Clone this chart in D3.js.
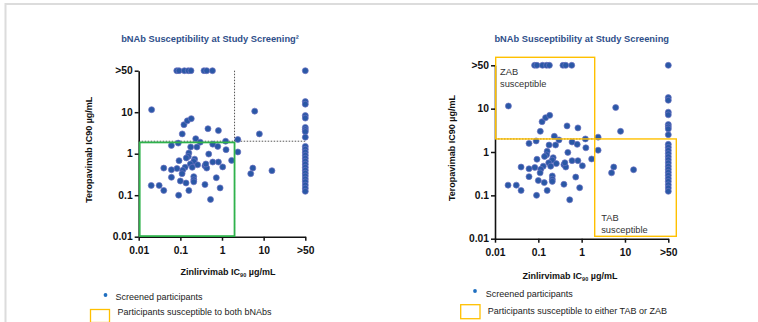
<!DOCTYPE html>
<html>
<head>
<meta charset="utf-8">
<script src="https://cdn.jsdelivr.net/npm/d3@7"></script>
<style>
  body { margin: 0; background: #fff; }
  svg { display: block; font-family: "Liberation Sans", Arial, sans-serif; }
</style>
</head>
<body>
<svg id="chart" width="758" height="322"></svg>
<script>
// ">50" values are plotted at the 100 position of the log axis
const GT50 = 100;
const THRESHOLD = 2; // susceptibility cut-off, µg/mL

const tickValues = [0.01, 0.1, 1, 10, GT50];
const tickLabels = ['0.01', '0.1', '1', '10', '>50'];

// Zinlirvimab IC90 (x) per screened participant
const zinlirvimabIC90 = [
  // Teropavimab >50 row
  0.082, 0.093, 0.125, 0.155, 0.18, 0.37, 0.43, 0.59,
  // Zinlirvimab >50 column
  GT50, GT50, GT50, GT50, GT50, GT50, GT50, GT50, GT50, GT50, GT50, GT50, GT50,
  GT50, GT50, GT50, GT50, GT50, GT50, GT50, GT50, GT50, GT50, GT50, GT50,
  // everything else
  0.0204, 6.1, 7.9, 0.122, 0.147, 0.183, 0.111, 0.46, 0.82, 0.234,
  0.30, 0.061, 0.089, 0.177, 0.25, 0.6, 0.79, 1.22, 1.25, 2.4,
  2.4, 1.7, 0.16, 0.155, 0.139, 0.22, 0.21, 0.48, 0.093, 0.6,
  0.82, 1.04, 0.174, 0.193, 0.26, 0.39, 0.43, 0.41, 0.13, 0.114,
  0.11, 0.083, 0.061, 0.04, 0.061, 0.10, 0.21, 0.21, 0.21, 0.137,
  0.39, 0.73, 0.9, 0.16, 0.091, 0.04, 0.031, 0.02, 0.53, 5.5,
  4.9, 15.8
];

// Teropavimab IC90 (y), same order
const teropavimabIC90 = [
  GT50, GT50, GT50, GT50, GT50, GT50, GT50, GT50,
  GT50, 18, 15.6, 8.3, 7.2, 4.3, 3.8, 3.4, 2.5, 1.5, 1.28, 1.09, 0.92,
  0.78, 0.66, 0.56, 0.47, 0.40, 0.34, 0.29, 0.245, 0.21, 0.175, 0.148, 0.124,
  11.5, 10.6, 3.0, 5.0, 6.2, 7.0, 3.0, 4.0, 3.6, 2.3,
  1.9, 1.58, 1.8, 1.45, 1.45, 1.7, 1.5, 2.0, 1.25, 2.2,
  1.1, 0.69, 1.04, 0.86, 0.79, 0.74, 0.65, 0.98, 0.68, 0.63,
  0.63, 0.48, 0.565, 0.47, 0.54, 0.51, 0.45, 0.565, 0.47, 0.40,
  0.33, 0.44, 0.41, 0.45, 0.27, 0.22, 0.28, 0.236, 0.21, 0.197,
  0.18, 0.264, 0.15, 0.13, 0.10, 0.13, 0.172, 0.172, 0.079, 0.45,
  0.33, 0.39
];

const participants = zinlirvimabIC90.map((x, i) => ({ x, y: teropavimabIC90[i] }));

const panels = [
  {
    title: 'bNAb Susceptibility at Study Screening²',
    plot: { left: 138.7, right: 305.3, top: 70.7, bottom: 236.7 },
    titleX: 210,
    titleY: 42.3,
    yTitleX: 91.5,
    xTitleX: 228,
    xTitleY: 275,
    legend: { dotX: 105.5, dotY: 295, textX: 115.5, row1: 300, box: [90.5, 309.5, 19, 13], row2: 315 },
    boxLabel: 'Participants susceptible to both bNAbs',
    mode: 'both'
  },
  {
    title: 'bNAb Susceptibility at Study Screening',
    plot: { left: 495, right: 668.3, top: 65.3, bottom: 238.7 },
    titleX: 581.7,
    titleY: 41.6,
    yTitleX: 455,
    xTitleX: 570,
    xTitleY: 278.5,
    legend: { dotX: 475, dotY: 291, textX: 485.7, row1: 296.5, box: [460.7, 304.7, 19.3, 14], row2: 313.5 },
    boxLabel: 'Participants susceptible to either TAB or ZAB',
    mode: 'either'
  }
];

const svg = d3.select('#chart');

// light frame of the slide
svg.append('path')
  .attr('d', 'M5.5,322 V4 H758')
  .attr('fill', 'none')
  .attr('stroke', '#dcdcdc')
  .attr('stroke-width', 2);

function drawPanel(p) {
  const g = svg.append('g');
  const x = d3.scaleLog().domain([0.01, GT50]).range([p.plot.left, p.plot.right]);
  const y = d3.scaleLog().domain([0.01, GT50]).range([p.plot.bottom, p.plot.top]);
  const fmt = d => tickLabels[tickValues.indexOf(d)];

  // title
  g.append('text')
    .attr('x', p.titleX)
    .attr('y', p.titleY)
    .attr('text-anchor', 'middle')
    .style('font-size', '9.3px')
    .style('font-weight', 'bold')
    .style('fill', '#2f4f8a')
    .text(p.title);

  // threshold dotted lines
  const dotted = g.append('g')
    .attr('stroke', '#555')
    .attr('stroke-width', 1)
    .attr('stroke-dasharray', '1.5,1.5');
  dotted.append('line')
    .attr('x1', x(0.01)).attr('x2', p.mode === 'both' ? x(GT50) : x(THRESHOLD))
    .attr('y1', y(THRESHOLD)).attr('y2', y(THRESHOLD));
  if (p.mode === 'both') {
    dotted.append('line')
      .attr('x1', x(THRESHOLD)).attr('x2', x(THRESHOLD))
      .attr('y1', y(GT50)).attr('y2', y(0.01));
  }

  // axes
  const xAxis = g.append('g')
    .attr('transform', `translate(0,${p.plot.bottom})`)
    .call(d3.axisBottom(x).tickValues(tickValues).tickFormat(fmt).tickSize(4).tickSizeOuter(0).tickPadding(6));
  const yAxis = g.append('g')
    .attr('transform', `translate(${p.plot.left},0)`)
    .call(d3.axisLeft(y).tickValues(tickValues).tickFormat(fmt).tickSize(4).tickSizeOuter(0).tickPadding(2));
  [xAxis, yAxis].forEach(a => {
    a.select('.domain').attr('stroke', '#111').attr('stroke-width', 1.6);
    a.selectAll('.tick line').attr('stroke', '#111').attr('stroke-width', 1.5);
    a.selectAll('.tick text')
      .style('font-size', '10.3px')
      .style('font-weight', 'bold')
      .style('font-family', '"Liberation Sans", Arial, sans-serif')
      .attr('fill', '#111');
  });

  // axis titles
  g.append('text')
    .attr('transform', `translate(${p.yTitleX},${(p.plot.top + p.plot.bottom) / 2 - 4}) rotate(-90)`)
    .attr('text-anchor', 'middle')
    .style('font-size', '9px')
    .style('font-weight', 'bold')
    .style('fill', '#111')
    .text('Teropavimab IC90 µg/mL');

  const xt = g.append('text')
    .attr('x', p.xTitleX)
    .attr('y', p.xTitleY)
    .attr('text-anchor', 'middle')
    .style('font-size', '9px')
    .style('font-weight', 'bold')
    .style('fill', '#111');
  xt.append('tspan').text('Zinlirvimab IC');
  xt.append('tspan').attr('dy', 2).style('font-size', '5.5px').text('90');
  xt.append('tspan').attr('dy', -2).text(' µg/mL');

  // points
  g.append('g')
    .selectAll('circle')
    .data(participants)
    .join('circle')
    .attr('cx', d => x(d.x))
    .attr('cy', d => y(d.y))
    .attr('r', 3)
    .attr('fill', '#2a58a6')
    .attr('stroke', '#6d72c2')
    .attr('stroke-width', 0.7);

  // susceptibility boxes
  if (p.mode === 'both') {
    g.append('rect')
      .attr('x', x(0.01) + 1)
      .attr('y', y(THRESHOLD) + 1.2)
      .attr('width', x(THRESHOLD) - x(0.01) - 1)
      .attr('height', y(0.01) - y(THRESHOLD) - 1.8)
      .attr('fill', 'none')
      .attr('stroke', '#2fb24c')
      .attr('stroke-width', 1.8);
  } else {
    const yellow = '#ffc000';
    g.append('rect')
      .attr('x', x(0.01) + 0.7)
      .attr('y', y(GT50) - 8)
      .attr('width', x(THRESHOLD) - x(0.01) - 0.7)
      .attr('height', y(THRESHOLD) - y(GT50) + 8)
      .attr('fill', 'none')
      .attr('stroke', yellow)
      .attr('stroke-width', 1.4);
    g.append('rect')
      .attr('x', x(THRESHOLD))
      .attr('y', y(THRESHOLD))
      .attr('width', x(GT50) - x(THRESHOLD) + 8)
      .attr('height', y(0.01) - y(THRESHOLD) - 2.4)
      .attr('fill', 'none')
      .attr('stroke', yellow)
      .attr('stroke-width', 1.4);

    const label = (tx, ty, lines) => {
      const t = g.append('text')
        .attr('x', tx)
        .attr('y', ty)
        .style('font-size', '9.3px')
        .style('fill', '#333');
      lines.forEach((s, i) => t.append('tspan').attr('x', tx).attr('dy', i ? 11.8 : 0).text(s));
    };
    label(x(0.01) + 5, y(GT50) + 10, ['ZAB', 'susceptible']);
    label(x(THRESHOLD) + 6.5, y(0.01) - 18, ['TAB', 'susceptible']);
  }

  // legend
  const lg = g.append('g').style('font-size', '9px').style('fill', '#222');
  lg.append('circle')
    .attr('cx', p.legend.dotX)
    .attr('cy', p.legend.dotY)
    .attr('r', 1.9)
    .attr('fill', '#1f6fc0');
  lg.append('text').attr('x', p.legend.textX).attr('y', p.legend.row1).text('Screened participants');
  const [bx, by, bw, bh] = p.legend.box;
  lg.append('rect')
    .attr('x', bx).attr('y', by).attr('width', bw).attr('height', bh)
    .attr('fill', 'none')
    .attr('stroke', '#ffc000')
    .attr('stroke-width', 1.3);
  lg.append('text').attr('x', p.legend.textX + 2).attr('y', p.legend.row2).text(p.boxLabel);
}

panels.forEach(drawPanel);
</script>
</body>
</html>
